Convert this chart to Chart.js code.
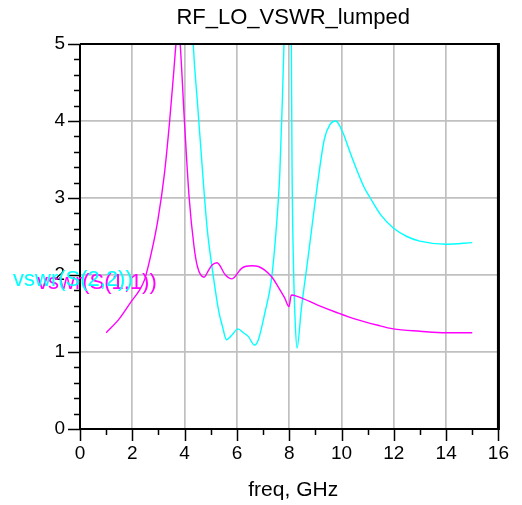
<!DOCTYPE html>
<html>
<head>
<meta charset="utf-8">
<script src="https://cdn.jsdelivr.net/npm/chart.js@4/dist/chart.umd.min.js"></script>
<style>
  html, body { margin: 0; padding: 0; background: #fff; }
</style>
</head>
<body>
<canvas id="chart" width="522" height="505"></canvas>
<script>
// vswr(S(1,1)) - magenta
const freqS11 = [1, 1.5, 1.97, 2.25, 2.47, 2.73, 2.98, 3.23, 3.42, 3.58, 3.67, 3.75, 3.83, 3.99, 4.17, 4.36, 4.49, 4.74, 4.93, 5.05, 5.24, 5.56, 5.81, 6.19, 6.57, 6.82, 7.32, 7.57, 7.83, 7.99, 8.08, 8.33, 9.09, 9.84, 10.5, 11.35, 11.98, 13.0, 14.0, 15.0];
const vswrS11 = [1.25, 1.43, 1.66, 1.79, 1.94, 2.29, 2.72, 3.32, 3.97, 4.62, 5.0, 5.25, 5.0, 4.02, 3.02, 2.37, 2.11, 1.97, 2.07, 2.13, 2.16, 2.0, 1.95, 2.09, 2.12, 2.11, 1.98, 1.85, 1.70, 1.59, 1.74, 1.72, 1.61, 1.51, 1.43, 1.35, 1.30, 1.27, 1.25, 1.25];

// vswr(S(2,2)) - cyan
const freqS22 = [1, 2, 3, 3.5, 4.0, 4.33, 4.5, 4.74, 4.87, 5.05, 5.31, 5.45, 5.60, 5.81, 6.04, 6.25, 6.44, 6.67, 6.82, 7.07, 7.32, 7.51, 7.64, 7.73, 7.80, 7.87, 7.94, 8.01, 8.08, 8.11, 8.17, 8.23, 8.30, 8.46, 8.71, 9.09, 9.34, 9.55, 9.78, 10.05, 10.34, 10.85, 11.10, 11.5, 11.98, 12.5, 12.99, 14.0, 15.0];
const vswrS22 = [9, 12, 16, 14, 8, 5.0, 4.2, 3.1, 2.58, 2.1, 1.52, 1.33, 1.16, 1.22, 1.30, 1.25, 1.20, 1.09, 1.16, 1.51, 1.94, 2.63, 3.32, 4.19, 5.0, 6.2, 6.8, 6.2, 5.0, 3.32, 2.03, 1.38, 1.05, 1.55, 2.2, 3.2, 3.76, 3.95, 4.0, 3.85, 3.58, 3.15, 3.0, 2.78, 2.61, 2.5, 2.44, 2.40, 2.42];

const xTicks = [0, 2, 4, 6, 8, 10, 12, 14, 16];
const yTicks = [0, 1, 2, 3, 4, 5];

const FONT = 'Arial, "Liberation Sans", sans-serif';

function pts(xs, ys) {
  return xs.map((x, i) => ({ x: x, y: ys[i] }));
}

// ticks, frame, title and trace labels
const framePlugin = {
  id: 'frame',
  afterDraw(chart) {
    const c = chart.ctx;
    const a = chart.chartArea;
    const xs = chart.scales.x, ys = chart.scales.y;
    c.save();
    c.strokeStyle = '#000';
    c.lineWidth = 1.5;
    c.beginPath();
    for (let v = 0; v <= 5.001; v += 0.2) {
      const y = Math.round(ys.getPixelForValue(v)) + 0.5;
      const major = Math.abs(v - Math.round(v)) < 0.01;
      c.moveTo(a.left - (major ? 12 : 6), y);
      c.lineTo(a.left, y);
    }
    for (let v = 0; v <= 16; v++) {
      const x = Math.round(xs.getPixelForValue(v)) + 0.5;
      c.moveTo(x, a.bottom);
      c.lineTo(x, a.bottom + (v % 2 === 0 ? 12 : 6));
    }
    c.stroke();

    c.lineWidth = 2;
    c.beginPath();
    c.moveTo(a.left, a.top);
    c.lineTo(a.left, a.bottom);
    c.lineTo(a.right, a.bottom);
    c.moveTo(a.left, a.top);
    c.lineTo(a.right, a.top);
    c.stroke();
    c.lineWidth = 3;
    c.beginPath();
    c.moveTo(a.right, a.top - 1);
    c.lineTo(a.right, a.bottom + 1);
    c.stroke();

    c.fillStyle = '#000';
    c.textAlign = 'center';
    c.textBaseline = 'middle';
    c.font = '22px ' + FONT;
    c.fillText('RF_LO_VSWR_lumped', (a.left + a.right) / 2 + 4, 18);
    c.font = '21px ' + FONT;
    c.fillText('freq, GHz', (a.left + a.right) / 2 + 4, 490);

    c.textAlign = 'left';
    c.font = '22px ' + FONT;
    c.fillStyle = '#ff00ff';
    c.fillText('vswr(S(1,1))', 37, 283);
    c.fillStyle = '#00ffff';
    c.fillText('vswr(S(2,2))', 13, 280);
    c.restore();
  }
};

new Chart(document.getElementById('chart'), {
  type: 'line',
  data: {
    datasets: [{
      label: 'vswr(S(1,1))',
      data: pts(freqS11, vswrS11),
      borderColor: '#ff00ff',
      borderWidth: 1.4,
      pointRadius: 0,
      cubicInterpolationMode: 'monotone',
      fill: false
    }, {
      label: 'vswr(S(2,2))',
      data: pts(freqS22, vswrS22),
      borderColor: '#00ffff',
      borderWidth: 1.4,
      pointRadius: 0,
      cubicInterpolationMode: 'monotone',
      fill: false
    }]
  },
  options: {
    responsive: false,
    animation: false,
    layout: { padding: { left: 0, right: 19, top: 44, bottom: 0 } },
    plugins: {
      legend: { display: false },
      tooltip: { enabled: false }
    },
    scales: {
      x: {
        type: 'linear',
        min: 0,
        max: 16,
        afterBuildTicks: s => { s.ticks = xTicks.map(v => ({ value: v })); },
        afterFit: s => { s.height = 76; },
        ticks: {
          color: '#000',
          font: { size: 19, family: FONT },
          padding: 13,
          maxRotation: 0
        },
        grid: { color: '#c0c0c0', lineWidth: 1.7, drawTicks: false },
        border: { display: false }
      },
      y: {
        min: 0,
        max: 5,
        afterBuildTicks: s => { s.ticks = yTicks.map(v => ({ value: v })); },
        afterFit: s => { s.width = 80; },
        ticks: {
          color: '#000',
          font: { size: 19, family: FONT },
          padding: 15
        },
        grid: { color: '#c0c0c0', lineWidth: 1.7, drawTicks: false },
        border: { display: false }
      }
    }
  },
  plugins: [framePlugin]
});
</script>
</body>
</html>
